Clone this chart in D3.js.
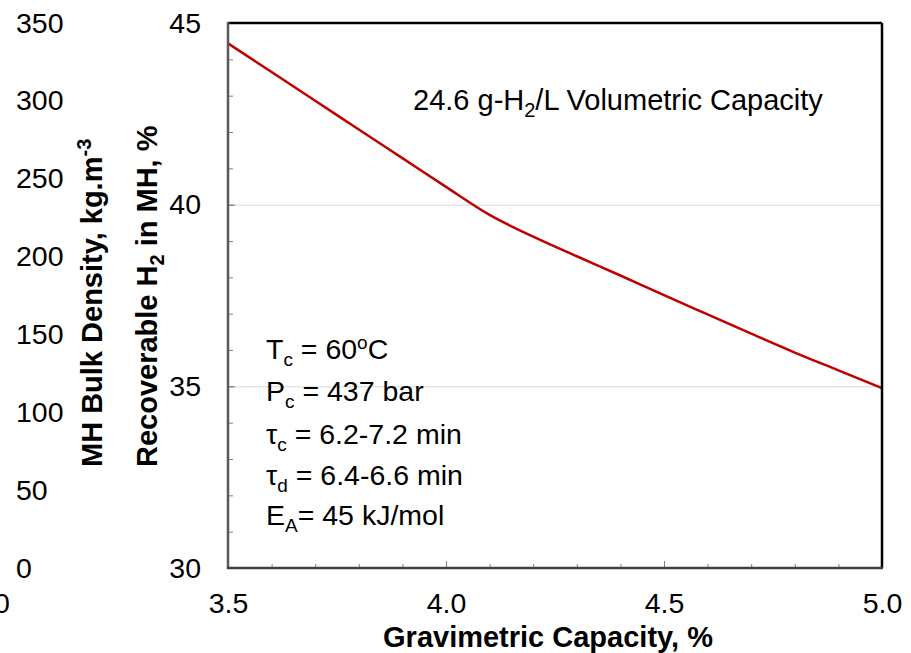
<!DOCTYPE html>
<html><head><meta charset="utf-8">
<script src="https://cdn.jsdelivr.net/npm/d3@7"></script>
<style>
body{margin:0;background:#fff;}
text{font-family:"Liberation Sans",Arial,sans-serif;fill:#000;}
</style></head>
<body><svg id="c" width="911" height="653"></svg>
<script>
// Data
const gravCapacity = [3.5,3.6,3.7,3.8,3.9,4.0,4.1,4.2,4.3,4.4,4.5,4.6,4.7,4.8,4.9,5.0];
const recoverableH2 = [44.44,43.65,42.86,42.07,41.28,40.49,39.72,39.12,38.58,38.05,37.51,36.98,36.45,35.93,35.44,34.95];
const xMajorTicks = [3.5,4.0,4.5,5.0];
const xMinorTicks = d3.range(35,51,1).map(d=>d/10);
const yMajorTicks = [30,35,40,45];
const yMinorTicks = d3.range(30,46,1);
const yGridTicks = [35,40];
const densityTicks = [0,50,100,150,200,250,300,350];

const svg = d3.select("#c");
const L=228,R=882,T=23,B=568;
const x = d3.scaleLinear().domain([3.5,5.0]).range([L,R]);
const y = d3.scaleLinear().domain([30,45]).range([B,T]);
const yD = d3.scaleLinear().domain([0,350]).range([B,T]);
const FS = 28.5, FT = 29;

// gridlines
svg.append("g").attr("transform",`translate(${L},0)`)
  .call(d3.axisLeft(y).tickValues(yGridTicks).tickSize(-(R-L)).tickFormat(""))
  .call(g=>{g.select(".domain").remove();g.selectAll("line").attr("stroke","#d9d9d9").attr("stroke-width",1);});

// line
svg.append("path").datum(gravCapacity.map((v,i)=>[v,recoverableH2[i]]))
  .attr("fill","none").attr("stroke","#c00000").attr("stroke-width",2.5)
  .attr("d",d3.line().x(d=>x(d[0])).y(d=>y(d[1])).curve(d3.curveMonotoneX));

// y minor ticks
svg.append("g").attr("transform",`translate(${L},0)`)
  .call(d3.axisLeft(y).tickValues(yMinorTicks).tickSize(-5).tickFormat(""))
  .call(g=>{g.select(".domain").remove();g.selectAll("line").attr("stroke","#808080");});
// y major ticks + labels
svg.append("g").attr("transform",`translate(${L},0)`)
  .call(d3.axisLeft(y).tickValues(yMajorTicks).tickSize(-7).tickPadding(27).tickFormat(d3.format("d")))
  .call(g=>{g.select(".domain").remove();g.selectAll("line").attr("stroke","#808080");
    g.selectAll("text").attr("font-size",FS).attr("fill","#000").style("font-family","'Liberation Sans',Arial");});

// x minor ticks
svg.append("g").attr("transform",`translate(0,${B})`)
  .call(d3.axisBottom(x).tickValues(xMinorTicks).tickSize(-4).tickFormat(""))
  .call(g=>{g.select(".domain").remove();g.selectAll("line").attr("stroke","#808080");});
svg.append("g").attr("transform",`translate(0,${B})`)
  .call(d3.axisBottom(x).tickValues(xMajorTicks).tickSize(-7).tickPadding(25).tickFormat(d3.format(".1f")))
  .call(g=>{g.select(".domain").remove();g.selectAll("line").attr("stroke","#808080");
    g.selectAll("text").attr("font-size",FS).attr("fill","#000").style("font-family","'Liberation Sans',Arial");});

// secondary density axis (labels only)
svg.append("g").attr("transform",`translate(13,0)`)
  .call(d3.axisRight(yD).tickValues(densityTicks).tickSize(0).tickPadding(3).tickFormat(d3.format("d")))
  .call(g=>{g.select(".domain").remove();
    g.selectAll("text").attr("font-size",FS).attr("fill","#000").style("font-family","'Liberation Sans',Arial");});

// leftover label at bottom-left edge (partly outside the frame, as in the reference)
svg.append("text").attr("x",2).attr("y",613).attr("text-anchor","middle").attr("font-size",FS).text("0");

// borders
svg.append("line").attr("x1",L).attr("x2",R).attr("y1",T).attr("y2",T).attr("stroke","#000").attr("stroke-width",2.5);
svg.append("line").attr("x1",R).attr("x2",R).attr("y1",T).attr("y2",B).attr("stroke","#000").attr("stroke-width",2.5);
svg.append("line").attr("x1",L).attr("x2",L).attr("y1",T-1).attr("y2",B+1).attr("stroke","#595959").attr("stroke-width",2.5);
svg.append("line").attr("x1",L-1).attr("x2",R+1).attr("y1",B).attr("y2",B).attr("stroke","#404040").attr("stroke-width",2.5);

// axis titles
svg.append("text").attr("x",548).attr("y",647).attr("text-anchor","middle")
  .attr("font-size",FT).attr("font-weight","bold").text("Gravimetric Capacity, %");

const t1 = svg.append("text").attr("transform","translate(157,467) rotate(-90)")
  .attr("font-size",FT).attr("font-weight","bold");
t1.append("tspan").text("Recoverable H");
t1.append("tspan").attr("font-size",20).attr("dy",7).text("2");
t1.append("tspan").attr("dy",-7).text(" in MH, %");

const t2 = svg.append("text").attr("transform","translate(102,467) rotate(-90)")
  .attr("font-size",FT).attr("font-weight","bold");
t2.append("tspan").text("MH Bulk Density, kg.m");
t2.append("tspan").attr("font-size",20).attr("dy",-11).text("-3");

// annotation
const a = svg.append("text").attr("x",413).attr("y",110).attr("font-size",FT);
a.append("tspan").text("24.6 g-H");
a.append("tspan").attr("font-size",20).attr("dy",7).text("2");
a.append("tspan").attr("dy",-7).text("/L Volumetric Capacity");

// parameter block
const params = [
  {main:"T", sub:"c", rest:" = 60", sup:"o", after:"C"},
  {main:"P", sub:"c", rest:" = 437 bar"},
  {main:"\u03C4", sub:"c", rest:" = 6.2-7.2 min"},
  {main:"\u03C4", sub:"d", rest:" = 6.4-6.6 min"},
  {main:"E", sub:"A", rest:"= 45 kJ/mol"}
];
const baselines = [359,401,444,485,525];
params.forEach((p,i)=>{
  const t = svg.append("text").attr("x",266).attr("y",baselines[i]).attr("font-size",FS);
  t.append("tspan").text(p.main);
  t.append("tspan").attr("font-size",19).attr("dy",7).text(p.sub);
  t.append("tspan").attr("dy",-7).text(p.rest);
  if(p.sup){
    t.append("tspan").attr("font-size",19).attr("dy",-10).text(p.sup);
    t.append("tspan").attr("dy",10).text(p.after);
  }
});
</script></body></html>
